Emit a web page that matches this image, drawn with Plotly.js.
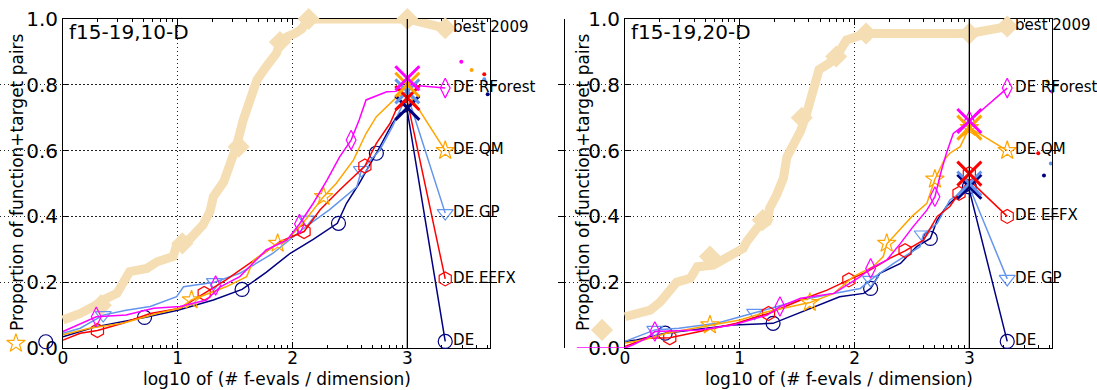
<!DOCTYPE html>
<html>
<head>
<meta charset="utf-8">
<script src="https://cdn.plot.ly/plotly-3.0.1.min.js"></script>
<style>html,body{margin:0;padding:0;background:#fff;}#chart{width:1097px;height:390px;}</style>
</head>
<body>
<div id="chart"></div>
<script>
// ---------------- data: panel 1 (f15-19, 10-D) ----------------
const best10X = [0,0.15,0.29,0.35,0.47,0.55,0.58,0.73,0.82,0.96,0.99,1.11,1.22,1.28,1.31,1.40,1.48,1.51,1.57,1.63,1.69,1.77,1.86,1.89,1.95,2.02,2.08,2.14,3.0,3.33];
const best10Y = [0.085,0.105,0.131,0.146,0.166,0.212,0.232,0.242,0.262,0.278,0.313,0.333,0.374,0.414,0.460,0.505,0.571,0.612,0.693,0.754,0.815,0.855,0.896,0.927,0.946,0.956,0.970,1.0,1.0,0.972];
const best10MX = [0.33,1.04,1.53,1.89,2.14,3.0,3.33];
const best10MY = [0.13,0.318,0.612,0.93,1.0,1.0,0.972];

const de10X = [0,0.29,0.71,1.00,1.31,1.56,1.77,1.98,2.18,2.39,2.47,2.58,2.73,2.87,2.93,3.0,3.33];
const de10Y = [0.034,0.065,0.093,0.115,0.146,0.178,0.23,0.288,0.33,0.379,0.44,0.50,0.592,0.683,0.713,0.72,0.02];
const de10MX = [-0.15,0.71,1.56,2.40,2.73,3.33];
const de10MY = [0.019,0.093,0.178,0.379,0.592,0.02];

const effx10X = [0,0.15,0.30,0.52,0.76,1.02,1.23,1.42,1.69,1.89,2.10,2.24,2.41,2.56,2.63,2.73,2.85,2.90,3.0,3.33];
const effx10Y = [0.024,0.045,0.053,0.075,0.105,0.121,0.166,0.207,0.273,0.323,0.354,0.42,0.48,0.531,0.553,0.622,0.683,0.723,0.75,0.21];
const effx10MX = [0.30,1.23,2.10,2.63,3.33];
const effx10MY = [0.053,0.166,0.354,0.553,0.21];

const gp10X = [0,0.15,0.35,0.55,0.76,0.99,1.05,1.32,1.54,1.83,2.12,2.32,2.56,2.60,2.76,2.87,3.0,3.33];
const gp10Y = [0.045,0.06,0.10,0.115,0.126,0.156,0.186,0.20,0.227,0.288,0.37,0.42,0.49,0.541,0.602,0.673,0.77,0.41];
const gp10MX = [0.35,1.32,2.12,2.60,3.33];
const gp10MY = [0.100,0.20,0.39,0.541,0.41];

const qm10X = [0,0.23,0.52,0.82,1.02,1.12,1.42,1.60,1.66,1.87,1.95,2.09,2.27,2.38,2.53,2.64,2.73,2.85,2.90,3.0,3.33];
const qm10Y = [0.04,0.06,0.075,0.105,0.121,0.146,0.186,0.217,0.267,0.318,0.328,0.379,0.46,0.50,0.571,0.652,0.703,0.744,0.76,0.78,0.60];
const qm10MX = [-0.41,1.12,1.87,2.27,3.33];
const qm10MY = [0.014,0.146,0.318,0.46,0.60];

const rf10X = [0,0.29,0.55,0.79,1.02,1.25,1.37,1.54,1.77,1.95,2.06,2.18,2.30,2.41,2.51,2.58,2.64,2.82,2.90,3.0,3.33];
const rf10Y = [0.05,0.095,0.10,0.121,0.126,0.146,0.186,0.217,0.298,0.328,0.377,0.44,0.51,0.581,0.632,0.693,0.754,0.779,0.78,0.80,0.79];
const rf10MX = [0.29,1.33,2.06,2.51,3.33];
const rf10MY = [0.095,0.19,0.377,0.632,0.79];

// final crosses at x = 3 (order: DE, EFFX, GP, QM, RForest)
const cross10Y = [0.73,0.76,0.78,0.80,0.82];
// small dots at upper right (order: DE, EFFX, GP, QM, RForest)
const dot10X = [3.70,3.67,3.67,3.56,3.47];
const dot10Y = [0.771,0.832,0.817,0.845,0.870];

// ---------------- data: panel 2 (f15-19, 20-D) ----------------
const best20X = [0,0.22,0.31,0.39,0.45,0.57,0.63,0.77,0.82,0.92,1.03,1.06,1.15,1.24,1.26,1.32,1.38,1.41,1.53,1.58,1.62,1.69,1.78,1.84,1.93,2.02,2.10,3.0,3.33];
const best20Y = [0.095,0.115,0.141,0.181,0.20,0.212,0.247,0.252,0.262,0.288,0.303,0.323,0.364,0.384,0.425,0.465,0.516,0.58,0.66,0.71,0.77,0.846,0.866,0.886,0.936,0.946,0.956,0.956,0.977];
const best20MX = [-0.20,0.74,1.20,1.54,1.84,2.10,3.0,3.33];
const best20MY = [0.055,0.278,0.389,0.70,0.886,0.956,0.956,0.977];

const de20X = [0,0.10,0.35,0.47,0.94,1.29,1.47,1.67,1.87,2.08,2.14,2.22,2.40,2.54,2.66,2.72,2.80,2.89,3.0,3.33];
const de20Y = [0.02,0.024,0.045,0.05,0.07,0.075,0.10,0.126,0.156,0.166,0.181,0.227,0.257,0.308,0.333,0.389,0.43,0.46,0.48,0.02];
const de20MX = [0.35,1.29,2.14,2.66,3.0,3.33];
const de20MY = [0.045,0.075,0.181,0.333,0.49,0.02];

const effx20X = [0,0.07,0.17,0.39,0.65,0.97,1.15,1.25,1.53,1.76,1.95,2.11,2.31,2.44,2.60,2.72,2.83,2.91,3.0,3.33];
const effx20Y = [0.005,0.014,0.03,0.031,0.05,0.075,0.095,0.105,0.146,0.176,0.207,0.232,0.273,0.295,0.328,0.40,0.43,0.47,0.51,0.40];
const effx20MX = [0.39,1.25,1.95,2.44,2.91,3.0,3.33];
const effx20MY = [0.031,0.105,0.207,0.296,0.47,0.53,0.40];

const gp20X = [0,0.26,0.47,0.80,1.13,1.53,1.82,2.05,2.14,2.34,2.57,2.60,2.72,2.83,3.0,3.33];
const gp20Y = [0.02,0.055,0.06,0.075,0.107,0.146,0.166,0.181,0.207,0.257,0.308,0.345,0.379,0.45,0.49,0.21];
const gp20MX = [0.26,1.13,2.14,2.59,3.33];
const gp20MY = [0.055,0.107,0.207,0.345,0.21];

const qm20X = [0,0.17,0.36,0.74,1.00,1.24,1.61,1.82,1.99,2.16,2.25,2.28,2.50,2.63,2.70,2.78,2.83,2.92,3.0,3.33];
const qm20Y = [0.015,0.025,0.045,0.07,0.085,0.11,0.138,0.166,0.217,0.247,0.278,0.316,0.40,0.44,0.513,0.571,0.592,0.612,0.67,0.60];
const qm20MX = [0.74,1.61,2.28,2.70,3.0,3.33];
const qm20MY = [0.07,0.138,0.318,0.513,0.67,0.60];

const rf20X = [-0.42,0,0.07,0.19,0.26,0.65,0.94,1.24,1.35,1.53,1.82,2.05,2.14,2.28,2.40,2.51,2.63,2.70,2.75,2.80,2.86,3.0,3.33];
const rf20Y = [0,0,0.01,0.03,0.05,0.055,0.07,0.10,0.126,0.151,0.166,0.217,0.242,0.267,0.318,0.369,0.419,0.46,0.531,0.592,0.652,0.69,0.79];
const rf20MX = [0.26,1.35,2.14,2.70,3.0,3.33];
const rf20MY = [0.05,0.126,0.242,0.46,0.69,0.79];

const cross20Y = [0.49,0.53,0.50,0.67,0.69];
const dot20X = [3.65,3.60,3.71,3.68,3.72];
const dot20Y = [0.524,0.592,0.561,0.81,0.78];

// ---------------- labels / styling ----------------
const algNames = ["DE","DE EFFX","DE GP","DE QM","DE RForest"];
const bestName = "best 2009";
const panelTitles = ["f15-19,10-D","f15-19,20-D"];
const xTitle = "log10 of (# f-evals / dimension)";
const yTitle = "Proportion of function+target pairs";
const xTickVals = [0,1,2,3];
const yTickVals = [0,0.2,0.4,0.6,0.8,1.0];

const algColors = ["#000080","#ff0000","#6495ed","#ffa500","#ff00ff"];
const algSymbols = ["circle-open","hexagon-open","triangle-down-open","star-open","diamond-tall-open"];
const bestColor = "#f5deb3";
const FONT = "DejaVu Sans, sans-serif";

// pixel geometry of the two plot frames
const W = 1097, H = 390, XMAX = 3.72;
const frames = [{l:63, r:490, padL:63, yTitleX:17}, {l:625, r:1052, padL:60, yTitleX:583}];
const unitPx = (frames[0].r - frames[0].l) / XMAX;

const panels = [
  {xa:"x", ya:"y", xo:"x3",
   best:[best10X,best10Y,best10MX,best10MY],
   algs:[[de10X,de10Y,de10MX,de10MY],[effx10X,effx10Y,effx10MX,effx10MY],[gp10X,gp10Y,gp10MX,gp10MY],[qm10X,qm10Y,qm10MX,qm10MY],[rf10X,rf10Y,rf10MX,rf10MY]],
   cross:cross10Y, dotX:dot10X, dotY:dot10Y},
  {xa:"x2", ya:"y2", xo:"x4",
   best:[best20X,best20Y,best20MX,best20MY],
   algs:[[de20X,de20Y,de20MX,de20MY],[effx20X,effx20Y,effx20MX,effx20MY],[gp20X,gp20Y,gp20MX,gp20MY],[qm20X,qm20Y,qm20MX,qm20MY],[rf20X,rf20Y,rf20MX,rf20MY]],
   cross:cross20Y, dotX:dot20X, dotY:dot20Y}
];

const traces = [];
const drawOrder = [0,2,1,3,4];
const label = (x, y, s, p) => ({x:[x], y:[y], xaxis:p.xo, yaxis:p.ya, mode:"markers+text", text:[s], textposition:"middle right",
  cliponaxis:false, marker:{size:11, color:"rgba(0,0,0,0)"}, textfont:{family:FONT, size:15, color:"#000"}, hoverinfo:"skip"});
panels.forEach(p => {
  const b = p.best;
  traces.push({x:b[0], y:b[1], xaxis:p.xo, yaxis:p.ya, mode:"lines", line:{color:bestColor, width:9}, hoverinfo:"skip"});
  traces.push({x:b[2], y:b[3], xaxis:p.xo, yaxis:p.ya, mode:"markers", cliponaxis:false,
    marker:{symbol:"diamond", size:17, color:bestColor}, hoverinfo:"skip"});
  drawOrder.forEach(i => {
    const a = p.algs[i];
    traces.push({x:a[0], y:a[1], xaxis:p.xo, yaxis:p.ya, mode:"lines", line:{color:algColors[i], width:1.5}, hoverinfo:"skip"});
    traces.push({x:a[2], y:a[3], xaxis:p.xo, yaxis:p.ya, mode:"markers", cliponaxis:false,
      marker:{symbol:algSymbols[i], size:14, color:algColors[i], line:{width:1.2, color:algColors[i]}}, hoverinfo:"skip"});
  });
  drawOrder.forEach(i => {
    traces.push({x:[3], y:[p.cross[i]], xaxis:p.xo, yaxis:p.ya, mode:"markers", cliponaxis:false,
      marker:{symbol:"x-thin", size:24, line:{width:3, color:algColors[i]}}, hoverinfo:"skip"});
    traces.push({x:[p.dotX[i]], y:[p.dotY[i]], xaxis:p.xo, yaxis:p.ya, mode:"markers", cliponaxis:false,
      marker:{symbol:"circle", size:4, color:algColors[i]}, hoverinfo:"skip"});
  });
  traces.push(label(b[2][b[2].length-1], b[3][b[3].length-1], bestName, p));
  drawOrder.forEach(i => {
    const a = p.algs[i];
    traces.push(label(a[2][a[2].length-1], a[3][a[3].length-1], algNames[i], p));
  });
});

const minorVals = [];
for (let n = 0; n < 4; n++) for (let k = 2; k < 10; k++) { const v = n + Math.log10(k); if (v < XMAX) minorVals.push(v); }

const GRID = {showgrid:true, gridcolor:"#222", griddash:"1px,3px", gridwidth:1, zeroline:false};
function xAxis(f, anchor) {
  return Object.assign({domain:[f.l/W, f.r/W], anchor:anchor, range:[0,XMAX], tickmode:"array", tickvals:xTickVals, ticktext:xTickVals.map(String),
    ticks:"inside", ticklen:6, tickcolor:"#000", mirror:"allticks", showline:true, linecolor:"#000", linewidth:1,
    minor:{tickmode:"array", tickvals:minorVals, ticks:"inside", ticklen:3, tickcolor:"#000", showgrid:false},
    ticklabelstandoff:-5,
    tickfont:{family:FONT, size:17, color:"#000"}}, GRID);
}
// invisible overlay axis, same scale, extended to the left so marks outside the frame stay visible
function overlayAxis(f, anchorY) {
  return {domain:[(f.l - f.padL)/W, f.r/W], anchor:anchorY, range:[-f.padL/unitPx, XMAX],
    visible:false, showgrid:false, zeroline:false, fixedrange:true};
}
function yAxis(anchor) {
  return Object.assign({domain:[0,1], anchor:anchor, range:[0,1], tickmode:"array", tickvals:yTickVals, ticktext:yTickVals.map(v=>v.toFixed(1)),
    ticks:"inside", ticklen:6, tickcolor:"#000", mirror:"allticks", showline:true, linecolor:"#000", linewidth:1,
    tickfont:{family:FONT, size:20, color:"#000"}}, GRID);
}

const annotations = [];
frames.forEach((f, k) => {
  annotations.push({xref:"paper", yref:"paper", x:(f.l + 4)/W, y:1 + 0.5/329, xanchor:"left", yanchor:"top", text:panelTitles[k], showarrow:false,
    font:{family:FONT, size:20, color:"#000"}});
  annotations.push({xref:"paper", yref:"paper", x:(f.l + f.r)/2/W, y:-(390 - 348)/329, xanchor:"center", yanchor:"bottom", text:xTitle, showarrow:false,
    font:{family:FONT, size:17, color:"#000"}, borderpad:0});
  annotations.push({xref:"paper", yref:"paper", x:f.yTitleX/W, y:(348 - 182)/329, xanchor:"center", yanchor:"middle", textangle:-90, text:yTitle, showarrow:false,
    font:{family:FONT, size:17, color:"#000"}});
});

const layout = {
  width:W, height:H, showlegend:false,
  paper_bgcolor:"#fff", plot_bgcolor:"rgba(0,0,0,0)",
  margin:{l:0, r:0, t:19, b:42},
  font:{family:FONT, color:"#000"},
  xaxis:xAxis(frames[0], "y"),
  yaxis:yAxis("x"),
  xaxis2:xAxis(frames[1], "y2"),
  yaxis2:yAxis("x2"),
  xaxis3:overlayAxis(frames[0], "y"),
  xaxis4:overlayAxis(frames[1], "y2"),
  shapes:[
    {type:"line", xref:"x", yref:"y domain", x0:3, x1:3, y0:0, y1:1, line:{color:"#000", width:1.3}},
    {type:"line", xref:"x2", yref:"y2 domain", x0:3, x1:3, y0:0, y1:1, line:{color:"#000", width:1.3}}
  ],
  annotations:annotations
};

Plotly.newPlot("chart", traces, layout, {staticPlot:true, displayModeBar:false});
</script>
</body>
</html>
